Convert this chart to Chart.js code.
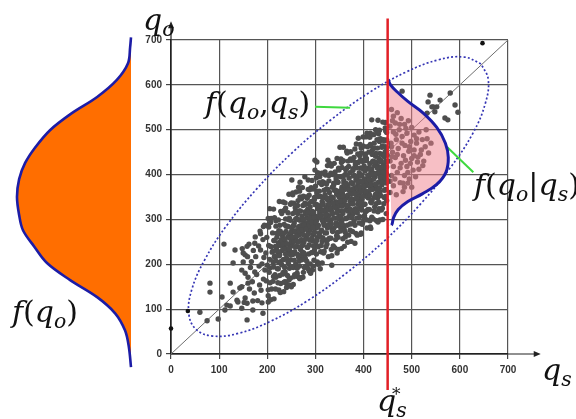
<!DOCTYPE html>
<html>
<head>
<meta charset="utf-8">
<script src="https://cdn.jsdelivr.net/npm/chart.js@4.4.1/dist/chart.umd.min.js"></script>
<style>
    html, body { margin: 0; padding: 0; background: #fff; }
    #wrap { position: relative; width: 576px; height: 419px; overflow: hidden; }
    #densityWrap { position: absolute; left: 0; top: 0; width: 160px; height: 419px; }
    #mainWrap { position: absolute; left: 0; top: 0; width: 576px; height: 419px; }
    .lbl { position: absolute; font-family: "DejaVu Serif", serif; font-size: 30px; line-height: 1; color: #111; white-space: nowrap; }
    .lbl i { font-style: italic; }
    .lbl sub { font-size: 0.68em; vertical-align: -0.3em; line-height: 0; }
</style>
</head>
<body>
<div id="wrap">
    <div id="densityWrap"><canvas id="densityCanvas"></canvas></div>
    <div id="mainWrap"><canvas id="mainCanvas"></canvas></div>
    <div class="lbl" style="left:143px;top:5px"><i>q</i><sub><i>o</i></sub></div>
    <div class="lbl" style="left:542px;top:355px"><i>q</i><sub><i>s</i></sub></div>
    <div class="lbl" style="left:377px;top:386px"><i>q</i><sub><i>s</i></sub></div>
    <div class="lbl" style="left:392px;top:386px;font-size:17px">*</div>
    <div class="lbl" style="left:205px;top:88px"><i>f</i>(<i>q</i><sub><i>o</i></sub>,<i>q</i><sub><i>s</i></sub>)</div>
    <div class="lbl" style="left:474px;top:170px"><i>f</i>(<i>q</i><sub><i>o</i></sub>|<i>q</i><sub><i>s</i></sub>)</div>
    <div class="lbl" style="left:12px;top:297px"><i>f</i>(<i>q</i><sub><i>o</i></sub>)</div>
</div>
<script>
// axis ranges (q_s horizontal, q_o vertical)
const axisMin = 0;
const axisMax = 700;
const axisStep = 100;
const qsArrowEnd = 768;
const qoArrowEnd = 742;

// chosen supply level
const qsStar = 450;
const redLineQo = [-80, 748];

// marginal density f(q_o) (density x 1e-3)
const marginalQo = [706, 684, 648, 611, 573, 537, 499, 460, 426, 390, 350, 310, 276, 240, 203, 165, 127, 91, 53, 16, -29];
const marginalF = [0.0, 0.02, 0.07, 0.33, 0.79, 1.38, 1.89, 2.24, 2.47, 2.61, 2.66, 2.61, 2.52, 2.26, 1.96, 1.42, 0.79, 0.37, 0.14, 0.05, 0.0];

// conditional density f(q_o|q_s*), drawn as a bulge right of q_s*
const condQs = [451, 456, 470, 492, 524, 552, 570, 576, 571, 552, 522, 492, 472, 462, 458, 450];
const condQo = [612, 600, 584, 563, 537, 505, 470, 438, 405, 378, 357, 340, 322, 303, 287, 287];

// joint density contour f(q_o, q_s)
const ellipseQs = [644, 609, 556, 489, 412, 331, 251, 178, 116, 70, 43, 37, 52, 87, 140, 207, 284, 365, 445, 518, 580, 627, 653, 659, 644];
const ellipseQo = [647, 662, 656, 629, 583, 521, 448, 368, 287, 210, 143, 90, 55, 40, 46, 73, 119, 181, 254, 334, 415, 492, 559, 612, 647];

// label leaders
const leaderJoint = [[299, 551], [372, 549]];
const leaderCond = [[574, 461], [628, 405]];

// isolated black points
const outliers = [[0, 57], [35, 96], [647, 693]];

// sample (q_s, q_o)
const samples = [
    // sparse lower left
    [60, 93], [75, 74], [98, 78], [106, 127], [112, 98], [116, 109], [123, 107], [137, 120], [139, 116], [147, 102],
    [154, 125], [158, 76], [170, 98], [170, 118], [189, 114], [191, 91], [202, 116], [81, 158], [81, 138], [123, 158],
    [129, 138], [143, 147], [160, 158], [110, 245], [133, 232], [129, 203], [147, 187], [154, 221], [174, 247], [150, 225],
    [158, 240], [186, 268], [192, 284], [202, 302],
    // band
    [152, 115], [147, 150], [154, 180], [150, 205], [148, 235],
    [158, 113], [163, 145], [160, 171], [165, 193], [159, 217], [162, 245],
    [173, 136], [169, 161], [174, 183], [167, 206], [171, 231], [175, 261],
    [180, 119], [184, 154], [178, 177], [183, 196], [176, 217], [182, 241], [185, 274],
    [187, 142], [192, 167], [195, 187], [189, 201], [193, 215], [186, 232], [191, 255], [194, 287],
    [202, 130], [198, 163], [204, 182], [200, 198], [205, 211], [197, 225], [203, 242], [199, 260], [201, 287],
    [209, 145], [213, 173], [206, 192], [212, 205], [215, 216], [210, 227], [208, 239], [214, 253], [211, 270], [207, 293],
    [224, 143], [218, 171], [221, 190], [225, 204], [217, 216], [222, 226], [219, 237], [223, 248], [220, 260], [224, 275], [218, 297],
    [228, 157], [233, 182], [230, 199], [235, 211], [226, 222], [231, 231], [234, 241], [229, 251], [232, 262], [227, 274], [235, 289], [230, 313],
    [241, 155], [237, 183], [244, 201], [240, 214], [242, 225], [238, 235], [245, 244], [236, 253], [243, 262], [239, 273], [242, 285], [244, 300], [238, 325],
    [248, 169], [254, 193], [249, 210], [253, 222], [246, 232], [252, 241], [250, 250], [255, 258], [247, 267], [251, 276], [254, 286], [248, 298], [253, 313], [250, 337],
    [263, 173], [259, 200], [265, 216], [257, 228], [261, 239], [264, 249], [258, 259], [262, 267], [260, 275], [265, 284], [256, 292], [261, 302], [263, 313], [258, 326], [264, 342], [260, 361],
    [267, 196], [272, 219], [269, 233], [274, 244], [271, 255], [266, 265], [273, 274], [270, 281], [275, 290], [268, 298], [272, 308], [269, 319], [274, 331], [271, 346], [267, 363], [273, 227],
    [282, 197], [278, 221], [284, 238], [276, 249], [281, 260], [285, 270], [279, 279], [283, 286], [277, 294], [282, 303], [280, 312], [284, 323], [278, 336], [281, 350], [285, 367], [279, 213],
    [289, 201], [293, 226], [287, 243], [292, 256], [295, 266], [288, 276], [291, 285], [286, 293], [294, 301], [290, 310], [293, 318], [289, 328], [292, 340], [287, 354], [291, 371], [294, 252],
    [304, 205], [298, 232], [301, 248], [305, 260], [297, 271], [302, 281], [299, 291], [303, 299], [300, 307], [296, 316], [305, 324], [301, 334], [298, 345], [303, 358], [300, 374], [302, 393],
    [311, 228], [314, 251], [308, 265], [313, 276], [306, 287], [315, 297], [310, 306], [309, 313], [312, 322], [307, 330], [314, 340], [311, 351], [308, 363], [313, 378], [309, 395], [315, 259],
    [318, 229], [323, 253], [320, 270], [325, 281], [317, 292], [321, 302], [324, 311], [319, 318], [322, 326], [316, 335], [325, 344], [320, 355], [323, 368], [318, 382], [321, 399], [324, 245],
    [333, 233], [329, 258], [335, 275], [327, 288], [332, 298], [328, 308], [334, 317], [330, 325], [326, 333], [331, 342], [333, 350], [329, 360], [335, 372], [328, 386], [332, 403], [330, 284],
    [340, 237], [344, 264], [338, 280], [343, 292], [341, 303], [336, 313], [345, 323], [339, 331], [342, 339], [337, 348], [344, 356], [340, 366], [338, 377], [343, 390], [341, 406], [339, 425],
    [347, 260], [352, 283], [355, 297], [349, 308], [353, 319], [346, 329], [351, 338], [354, 345], [348, 354], [350, 362], [355, 372], [347, 383], [352, 395], [349, 410], [354, 427], [351, 291],
    [362, 261], [359, 285], [364, 302], [357, 313], [365, 324], [360, 334], [358, 343], [363, 350], [356, 358], [361, 367], [364, 376], [359, 387], [362, 400], [365, 414], [358, 431], [360, 277],
    [369, 265], [373, 290], [370, 307], [375, 320], [368, 330], [372, 340], [366, 349], [374, 357], [371, 365], [367, 374], [375, 382], [370, 392], [372, 404], [369, 418], [373, 435], [374, 316],
    [384, 269], [380, 296], [378, 312], [383, 324], [376, 335], [381, 345], [385, 355], [379, 363], [382, 371], [377, 380], [384, 388], [381, 398], [378, 409], [383, 422], [380, 438], [382, 457],
    [391, 292], [387, 315], [394, 329], [390, 340], [392, 351], [389, 361], [395, 370], [388, 377], [393, 386], [386, 394], [391, 404], [394, 415], [389, 427], [392, 442], [395, 459], [387, 323],
    [398, 293], [404, 317], [401, 334], [397, 345], [403, 356], [400, 366], [405, 375], [399, 382], [402, 390], [396, 399], [403, 408], [401, 419], [398, 432], [404, 446], [400, 463], [402, 309],
    [413, 297], [409, 322], [415, 339], [408, 352], [411, 362], [414, 372], [407, 381], [412, 389], [410, 397], [415, 406], [409, 414], [413, 424], [406, 436], [411, 450], [414, 467], [410, 348],
    [420, 301], [423, 328], [418, 344], [425, 356], [419, 367], [422, 377], [416, 387], [424, 395], [421, 403], [417, 412], [423, 420], [420, 430], [425, 441], [418, 454], [422, 470], [421, 489],
    [432, 324], [429, 347], [434, 361], [427, 372], [431, 383], [435, 393], [428, 402], [433, 409], [430, 418], [426, 426], [432, 436], [434, 447], [429, 459], [433, 474], [431, 491], [428, 355],
    [439, 325], [443, 349], [445, 366], [438, 377], [442, 388], [437, 398], [444, 407], [440, 414], [441, 422], [436, 431], [443, 440], [445, 451], [439, 464], [442, 478],
    [448, 342], [446, 367], [449, 387], [447, 402], [448, 417], [446, 430], [449, 444], [447, 460], [448, 477], [446, 497],
    // band core, in-between columns
    [216, 177], [213, 194], [218, 207], [215, 218], [212, 229], [217, 240], [214, 253], [219, 269],
    [223, 190], [228, 206], [225, 219], [221, 230], [227, 242], [229, 254], [224, 268], [226, 287],
    [236, 193], [233, 210], [238, 223], [235, 234], [232, 245], [237, 256], [234, 269], [239, 285],
    [243, 206], [248, 222], [245, 235], [241, 246], [247, 258], [249, 270], [244, 284], [246, 303],
    [256, 209], [253, 226], [258, 239], [255, 250], [252, 261], [257, 272], [254, 285], [259, 301],
    [263, 222], [268, 238], [265, 251], [261, 262], [267, 274], [269, 286], [264, 300], [266, 319],
    [276, 225], [273, 242], [278, 255], [275, 266], [272, 277], [277, 288], [274, 301], [279, 317],
    [283, 238], [288, 254], [285, 267], [281, 278], [287, 290], [289, 302], [284, 316], [286, 335],
    [296, 241], [293, 258], [298, 271], [295, 282], [292, 293], [297, 304], [294, 317], [299, 333],
    [303, 254], [308, 270], [305, 283], [301, 294], [307, 306], [309, 318], [304, 332], [306, 351],
    [316, 257], [313, 274], [318, 287], [315, 298], [312, 309], [317, 320], [314, 333], [319, 349],
    [323, 270], [328, 286], [325, 299], [321, 310], [327, 322], [329, 334], [324, 348], [326, 367],
    [336, 273], [333, 290], [338, 303], [335, 314], [332, 325], [337, 336], [334, 349], [339, 365],
    [343, 286], [348, 302], [345, 315], [341, 326], [347, 338], [349, 350], [344, 364], [346, 383],
    [356, 289], [353, 306], [358, 319], [355, 330], [352, 341], [357, 352], [354, 365], [359, 381],
    [363, 302], [368, 318], [365, 331], [361, 342], [367, 354], [369, 366], [364, 380], [366, 399],
    [376, 305], [373, 322], [378, 335], [375, 346], [372, 357], [377, 368], [374, 381], [379, 397],
    [383, 318], [388, 334], [385, 347], [381, 358], [387, 370], [389, 382], [384, 396], [386, 415],
    [396, 321], [393, 338], [398, 351], [395, 362], [392, 373], [397, 384], [394, 397], [399, 413],
    [403, 334], [408, 350], [405, 363], [401, 374], [407, 386], [409, 398], [404, 412], [406, 431],
    [416, 337], [413, 354], [418, 367], [415, 378], [412, 389], [417, 400], [414, 413], [419, 429],
    [423, 350], [428, 366], [425, 379], [421, 390], [427, 402], [429, 414], [424, 428], [426, 447],
    [436, 353], [433, 370], [438, 383], [435, 394], [432, 405], [437, 416], [434, 429], [439, 445],
    [443, 365], [447, 381], [444, 394], [441, 405], [446, 417], [448, 429], [443, 443], [445, 462],
    // band edges
    [207, 121], [202, 143], [206, 159], [203, 283], [208, 302], [205, 324],
    [214, 123], [217, 145], [212, 162], [218, 285], [215, 304], [213, 323],
    [227, 137], [222, 159], [226, 175], [223, 299], [228, 318], [225, 340],
    [234, 139], [237, 161], [232, 178], [238, 301], [235, 320], [233, 339],
    [247, 153], [242, 175], [246, 191], [243, 315], [248, 334], [245, 356],
    [254, 155], [257, 177], [252, 194], [258, 317], [255, 336], [253, 355],
    [267, 169], [262, 191], [266, 207], [263, 331], [268, 350], [265, 372],
    [274, 171], [277, 193], [272, 210], [278, 333], [275, 352], [273, 371],
    [287, 185], [282, 207], [286, 223], [283, 347], [288, 366], [285, 388],
    [294, 187], [297, 209], [292, 226], [298, 349], [295, 368], [293, 387],
    [307, 201], [302, 223], [306, 239], [303, 363], [308, 382], [305, 404],
    [314, 203], [317, 225], [312, 242], [318, 365], [315, 384], [313, 403],
    [327, 217], [322, 239], [326, 255], [323, 379], [328, 398], [325, 420],
    [334, 219], [337, 241], [332, 258], [338, 381], [335, 400], [333, 419],
    [347, 233], [342, 255], [346, 271], [343, 395], [348, 414], [345, 436],
    [354, 235], [357, 257], [352, 274], [358, 397], [355, 416], [353, 435],
    [367, 249], [362, 271], [366, 287], [363, 411], [368, 430], [365, 452],
    [374, 251], [377, 273], [372, 290], [378, 413], [375, 432], [373, 451],
    [387, 265], [382, 287], [386, 303], [383, 427], [388, 446], [385, 468],
    [394, 267], [397, 289], [392, 306], [398, 429], [395, 448], [393, 467],
    [407, 281], [402, 303], [406, 319], [403, 443], [408, 462], [405, 484],
    [414, 283], [417, 305], [412, 322], [418, 445], [415, 464], [413, 483],
    [427, 297], [422, 319], [426, 335], [423, 459], [428, 478], [425, 500],
    [434, 299], [437, 321], [432, 338], [438, 461], [435, 480], [433, 499],
    [447, 313], [442, 335], [446, 351], [443, 475], [448, 494], [445, 516],
    // upper-left and lower-right fringe
    [417, 522], [440, 517], [430, 521], [414, 492], [399, 484], [358, 461], [393, 432], [445, 504], [428, 495], [407, 492],
    [389, 481], [351, 461], [366, 448], [299, 432], [320, 406], [278, 395], [326, 432], [303, 428], [330, 425], [251, 388],
    [268, 383], [253, 359], [237, 337], [299, 410], [430, 294], [382, 247], [372, 276], [334, 198], [407, 299], [430, 317],
    [345, 225], [360, 240], [310, 190], [290, 180], [270, 170], [395, 270], [415, 280], [440, 300], [250, 150], [235, 160],
    [245, 165], [255, 172], [262, 180], [275, 182], [285, 190], [295, 196], [305, 200], [240, 148], [268, 168],
    // right of q_s*
    [458, 545], [462, 530], [470, 538], [478, 525], [466, 515], [455, 508], [485, 512], [493, 520], [500, 505], [474, 500],
    [462, 495], [490, 492], [505, 488], [515, 495], [480, 485], [468, 478], [457, 470], [498, 474], [510, 470], [522, 478],
    [486, 465], [472, 458], [460, 450], [494, 452], [505, 455], [528, 462], [518, 445], [483, 442], [466, 438], [455, 430],
    [500, 436], [512, 428], [478, 425], [490, 418], [462, 418], [535, 448], [525, 430], [470, 405], [485, 398], [503, 410],
    [458, 398], [515, 412], [495, 390], [476, 382], [462, 375], [508, 395], [482, 362], [468, 355], [500, 372], [523, 420],
    [540, 470], [530, 500], [455, 360], [513, 439], [482, 381], [492, 381],
    [460, 520], [475, 512], [488, 503], [467, 490], [480, 470], [495, 462], [458, 462], [470, 445], [487, 432], [505, 442],
    [459, 440], [476, 415], [492, 405], [465, 390], [455, 385], [485, 372], [520, 455], [510, 480], [497, 425], [532, 480],
    [480, 586], [538, 577], [534, 562], [542, 551], [552, 551], [559, 566], [580, 582], [590, 555], [569, 526], [575, 522],
    [532, 537], [596, 539], [548, 540], [545, 551],
];

const toXY = (pairs) => pairs.map(([x, y]) => ({ x, y }));
const zipXY = (xs, ys) => xs.map((x, i) => ({ x, y: ys[i] }));

const BLUE = "#1c1ca6";
const GRID = "#555";
const tickFont = { family: "Liberation Sans", weight: "bold", size: 10 };

const axisArrows = {
    id: "axisArrows",
    beforeDatasetsDraw(chart) {
        const { ctx, scales } = chart;
        const x0 = scales.x.getPixelForValue(axisMin);
        const y0 = scales.y.getPixelForValue(axisMin);
        const xEnd = scales.x.getPixelForValue(qsArrowEnd);
        const yEnd = scales.y.getPixelForValue(qoArrowEnd);
        ctx.save();
        ctx.strokeStyle = "#222";
        ctx.fillStyle = "#222";
        ctx.lineWidth = 1.2;
        ctx.beginPath();
        ctx.moveTo(x0, y0);
        ctx.lineTo(xEnd - 4, y0);
        ctx.moveTo(x0, y0);
        ctx.lineTo(x0, yEnd + 4);
        ctx.stroke();
        ctx.beginPath();
        ctx.moveTo(xEnd, y0);
        ctx.lineTo(xEnd - 7, y0 - 3);
        ctx.lineTo(xEnd - 7, y0 + 3);
        ctx.closePath();
        ctx.moveTo(x0, yEnd);
        ctx.lineTo(x0 - 3, yEnd + 7);
        ctx.lineTo(x0 + 3, yEnd + 7);
        ctx.closePath();
        ctx.fill();
        ctx.restore();
    },
};

// left marginal density
new Chart(document.getElementById("densityCanvas"), {
    type: "scatter",
    data: {
        datasets: [
            {
                data: zipXY(marginalF, marginalQo),
                showLine: true,
                tension: 0.35,
                borderColor: BLUE,
                borderWidth: 2.6,
                backgroundColor: "#ff6e00",
                fill: "shape",
                pointRadius: 0,
                clip: false,
            },
        ],
    },
    options: {
        responsive: true,
        maintainAspectRatio: false,
        animation: false,
        events: [],
        layout: { padding: { left: 6.7, right: 29, top: 31, bottom: 51.4 } },
        plugins: { legend: { display: false }, tooltip: { enabled: false } },
        scales: {
            x: { type: "linear", reverse: true, min: 0, max: 2.9, display: false },
            y: { type: "linear", min: -30, max: 720, display: false },
        },
    },
});

// main joint plot
new Chart(document.getElementById("mainCanvas"), {
    type: "scatter",
    data: {
        datasets: [
            {
                label: "q_o = q_s",
                data: toXY([[axisMin, axisMin], [axisMax, axisMax]]),
                showLine: true,
                borderColor: "#6e6e6e",
                borderWidth: 1,
                pointRadius: 0,
                order: 10,
            },
            {
                label: "samples",
                data: toXY(samples),
                backgroundColor: "#4e4e4e",
                borderWidth: 0,
                pointRadius: 2.7,
                order: 8,
            },
            {
                label: "f(q_o, q_s)",
                data: zipXY(ellipseQs, ellipseQo),
                showLine: true,
                tension: 0.4,
                borderColor: "#3535b4",
                borderWidth: 1.7,
                borderDash: [2, 2.2],
                pointRadius: 0,
                fill: false,
                order: 6,
            },
            {
                label: "leader joint",
                data: toXY(leaderJoint),
                showLine: true,
                borderColor: "#3fd83f",
                borderWidth: 2,
                pointRadius: 0,
                order: 5,
            },
            {
                label: "leader cond",
                data: toXY(leaderCond),
                showLine: true,
                borderColor: "#3fd83f",
                borderWidth: 2,
                pointRadius: 0,
                order: 5,
            },
            {
                label: "outliers",
                data: toXY(outliers),
                backgroundColor: "#111",
                borderWidth: 0,
                pointRadius: 2.3,
                clip: false,
                order: 3,
            },
            {
                label: "f(q_o | q_s)",
                data: zipXY(condQs, condQo),
                showLine: true,
                tension: 0.4,
                borderColor: BLUE,
                borderWidth: 3,
                backgroundColor: "rgba(240, 128, 140, 0.5)",
                fill: "shape",
                pointRadius: 0,
                segment: {
                    borderColor: (c) => (c.p1DataIndex === condQs.length - 1 ? "rgba(0,0,0,0)" : BLUE),
                },
                order: 2,
            },
            {
                label: "q_s*",
                data: zipXY([qsStar, qsStar], redLineQo),
                showLine: true,
                borderColor: "#e21f26",
                borderWidth: 2.5,
                pointRadius: 0,
                clip: false,
                order: 0,
            },
        ],
    },
    options: {
        responsive: true,
        maintainAspectRatio: false,
        animation: false,
        events: [],
        layout: { padding: { left: 131, right: 68, top: 40, bottom: 35 } },
        plugins: { legend: { display: false }, tooltip: { enabled: false } },
        scales: {
            x: {
                type: "linear",
                min: axisMin,
                max: axisMax,
                afterFit: (s) => { s.height = 30; },
                ticks: { stepSize: axisStep, font: tickFont, color: "#333", padding: 5 },
                grid: { color: GRID, lineWidth: 1.2, tickLength: 5, tickColor: "#444" },
                border: { color: "#222", width: 1.2 },
            },
            y: {
                type: "linear",
                min: axisMin,
                max: axisMax,
                afterFit: (s) => { s.width = 40; },
                ticks: { stepSize: axisStep, font: tickFont, color: "#333", padding: 4 },
                grid: { color: GRID, lineWidth: 1.2, tickLength: 5, tickColor: "#444" },
                border: { color: "#222", width: 1.2 },
            },
        },
    },
    plugins: [axisArrows],
});
</script>
</body>
</html>
